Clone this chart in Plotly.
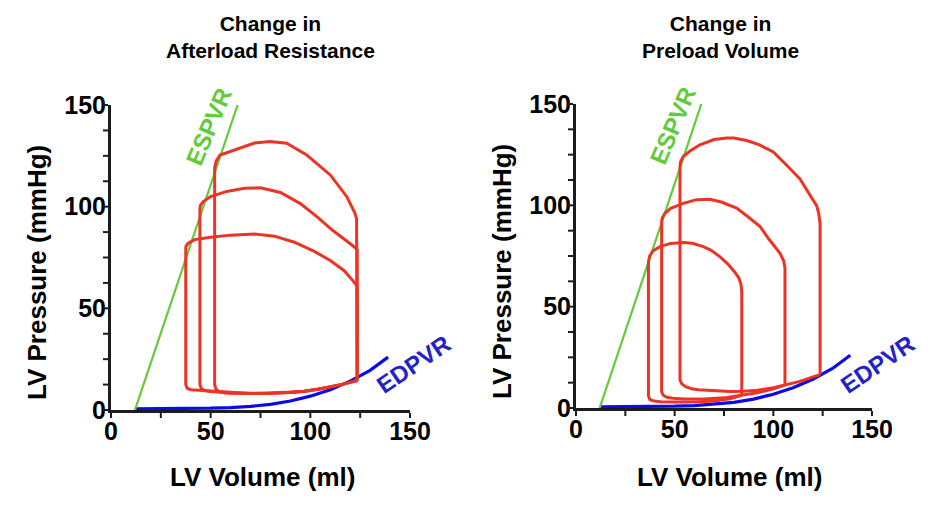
import plotly.graph_objects as go

# ---------------- data ----------------
# End-systolic pressure-volume relation (shared by both panels)
espvr_v = [12, 63.5]
espvr_p = [0, 150]

# End-diastolic pressure-volume relation (shared by both panels)
edpvr_v = [12, 20, 30, 40, 50, 60, 70, 80, 90, 100, 110, 120, 130, 139]
edpvr_p = [0.6, 0.6, 0.6, 0.7, 0.9, 1.2, 1.8, 2.8, 4.4, 6.8, 10.0, 14.2, 19.5, 26.0]

# Left panel: change in afterload resistance
afterload_1_v = [123.5, 123.5, 123.2, 122.4, 118.3, 110, 98.2, 88.1, 79.8, 72, 64.7, 58.5, 54.7, 52.8, 52, 52,
                 52.6, 54, 56.5, 60, 70, 80, 90, 97, 104, 110, 116, 120, 123.5]
afterload_1_p = [14.5, 90, 94, 96.7, 104.9, 115.6, 125.4, 131.2, 132, 131.3, 128.7, 126.8, 125.4, 122.5, 119, 12.5,
                 10.4, 9.2, 8.5, 8.2, 8.1, 8.2, 8.6, 9.2, 10.2, 11.3, 12.6, 13.6, 14.5]
afterload_2_v = [123.5, 123.5, 121, 117, 111, 104, 95, 85, 75, 67, 58, 50, 46.3, 44.9, 44.6, 44.6,
                 45.3, 47, 50, 55, 60, 70, 80, 90, 97, 104, 110, 116, 120, 123.5]
afterload_2_p = [14.5, 79, 81, 84, 88.5, 94.5, 101.5, 107, 109.3, 109, 107.5, 105, 102.5, 100.8, 99, 12.5,
                 10.6, 9.6, 9.1, 8.7, 8.3, 8.1, 8.2, 8.6, 9.2, 10.2, 11.3, 12.6, 13.6, 14.5]
afterload_3_v = [123.5, 123.5, 121, 117, 110, 102, 92, 82, 72, 60, 50, 42, 38.7, 37.6, 37.5, 37.5,
                 38.2, 40, 44, 50, 56, 62, 70, 80, 90, 97, 104, 110, 116, 120, 123.5]
afterload_3_p = [14.5, 61, 64, 68.5, 73.5, 78, 82.5, 85.5, 86.5, 86, 85, 83.8, 82, 80.5, 78.7, 12.5,
                 10.7, 10, 9.7, 9.3, 8.8, 8.4, 8.1, 8.2, 8.6, 9.2, 10.2, 11.3, 12.6, 13.6, 14.5]

# Right panel: change in preload volume
preload_1_v = [123.7, 123.7, 123, 122, 118, 113.5, 107, 100, 93, 86.5, 80, 76.4, 70, 62.8, 58, 54.4, 53, 52.7,
               52.7, 53.5, 55.5, 58.5, 62, 70, 78, 85, 92, 100, 106, 113, 119, 123.7]
preload_1_p = [16.5, 91, 96, 99.7, 106, 113, 119.5, 126.3, 129.8, 132, 133.2, 133.2, 132.5, 129.9, 127, 124.1, 121.5, 119,
               14, 12, 10.5, 9.5, 9, 8.5, 8.2, 8.3, 8.8, 10, 11.3, 13, 15, 16.5]
preload_2_v = [105.9, 105.9, 105.3, 103.4, 98, 93.3, 87, 81.4, 74, 67.9, 61, 54.4, 48, 45.1, 43.6, 43.4,
               43.4, 44.2, 46, 49, 55, 65, 75, 84, 92, 100, 105.9]
preload_2_p = [11.3, 68.9, 72.5, 76.3, 83, 89.5, 94.5, 98.6, 101.5, 103, 102.8, 101, 98.5, 96.1, 93.5, 91,
               8, 6.3, 5.3, 4.8, 4.5, 4.5, 5, 6.2, 7.5, 9.5, 11.3]
preload_3_v = [84, 84, 83.6, 82.6, 80.5, 77, 73, 68.5, 64.5, 59, 54.4, 48, 42.6, 39, 37.3, 36.7,
               36.7, 37.4, 39.5, 43, 50, 60, 70, 78, 84]
preload_3_p = [6.2, 57.4, 61, 64, 67, 71, 74.6, 77.8, 79.6, 81.3, 81.7, 81.2, 79.6, 77.5, 75, 72,
               6, 4.2, 3.4, 3.1, 3, 3, 3.5, 4.5, 6.2]

panel_titles = ["Change in<br>Afterload Resistance", "Change in<br>Preload Volume"]
x_title = "LV Volume (ml)"
y_title = "LV Pressure (mmHg)"
x_tick_vals = [0, 25, 50, 75, 100, 125, 150]
x_tick_text = ["0", "", "50", "", "100", "", "150"]
y_tick_vals = [0, 12.5, 25, 37.5, 50, 62.5, 75, 87.5, 100, 112.5, 125, 137.5, 150]
y_tick_text = ["0", "", "", "", "50", "", "", "", "100", "", "", "", "150"]
axis_range = [0, 150]

# ---------------- styling ----------------
RED = "#EC3426"
GREEN = "#62CB3A"
BLUE = "#0B0BEA"
BLUE_TXT = "#2222C8"
INK = "#1C1C1C"
FONT = "Liberation Sans, Arial, sans-serif"
W, H = 938, 514

fig = go.Figure()

def add_panel(xa, ya, loops):
    fig.add_trace(go.Scatter(x=edpvr_v, y=edpvr_p, mode="lines", xaxis=xa, yaxis=ya,
                             line=dict(color=BLUE, width=3.2), hoverinfo="skip"))
    fig.add_trace(go.Scatter(x=espvr_v, y=espvr_p, mode="lines", xaxis=xa, yaxis=ya,
                             line=dict(color=GREEN, width=2.2), hoverinfo="skip"))
    for v, p in loops:
        fig.add_trace(go.Scatter(x=v, y=p, mode="lines", xaxis=xa, yaxis=ya,
                                 line=dict(color=RED, width=3), hoverinfo="skip"))

add_panel("x", "y", [(afterload_1_v, afterload_1_p), (afterload_2_v, afterload_2_p),
                     (afterload_3_v, afterload_3_p)])
add_panel("x2", "y2", [(preload_1_v, preload_1_p), (preload_2_v, preload_2_p),
                       (preload_3_v, preload_3_p)])

def axis(domain, anchor, vals, text):
    return dict(domain=domain, anchor=anchor, range=axis_range, autorange=False,
                showgrid=False, zeroline=False,
                showline=False, ticks="",
                tickmode="array", tickvals=vals, ticktext=text, ticklabelstandoff=4,
                tickfont=dict(family=FONT, size=25, color="black", weight="bold"),
                fixedrange=True)

XD1 = [111 / W, 410 / W]
YD1 = [1 - 410 / H, 1 - 105 / H]
XD2 = [576 / W, 872 / W]
YD2 = [1 - 408 / H, 1 - 104 / H]

# transparent full-page overlay axes (paper units) that carry the axis frames
overlay = dict(domain=[0, 1], range=[0, 1], autorange=False, visible=False, fixedrange=True)

fig.update_layout(
    template="none",
    width=W, height=H, autosize=False,
    margin=dict(l=0, r=0, t=0, b=0, pad=0, autoexpand=False),
    paper_bgcolor="white", plot_bgcolor="rgba(0,0,0,0)",
    showlegend=False,
    xaxis=axis(XD1, "y", x_tick_vals, x_tick_text),
    yaxis=axis(YD1, "x", y_tick_vals, y_tick_text),
    xaxis2=axis(XD2, "y2", x_tick_vals, x_tick_text),
    yaxis2=axis(YD2, "x2", y_tick_vals, y_tick_text),
    xaxis3=dict(overlay, anchor="y3"),
    yaxis3=dict(overlay, anchor="x3"),
)

# axis lines and tick marks, mapped from the axis range onto each panel's domain
def frame(xd, yd):
    span = axis_range[1] - axis_range[0]
    def fx(v):
        return xd[0] + (v - axis_range[0]) / span * (xd[1] - xd[0])
    def fy(v):
        return yd[0] + (v - axis_range[0]) / span * (yd[1] - yd[0])
    lx, ly = 1.0 / W, 1.0 / H
    ax_x = [xd[0] - 3 * lx, xd[1], None, xd[0] - 1.5 * lx, xd[0] - 1.5 * lx]
    ax_y = [yd[0] - 1.5 * ly, yd[0] - 1.5 * ly, None, yd[0] - 3 * ly, yd[1]]
    fig.add_trace(go.Scatter(x=ax_x, y=ax_y, mode="lines", xaxis="x3", yaxis="y3",
                             line=dict(color=INK, width=3), hoverinfo="skip"))
    tx, ty = [], []
    for v in x_tick_vals:
        tx += [fx(v), fx(v), None]
        ty += [yd[0] - 3 * ly, yd[0] - 8 * ly, None]
    for v in y_tick_vals:
        tx += [xd[0] - 3 * lx, xd[0] - 8 * lx, None]
        ty += [fy(v), fy(v), None]
    fig.add_trace(go.Scatter(x=tx, y=ty, mode="lines", xaxis="x3", yaxis="y3",
                             line=dict(color=INK, width=2), hoverinfo="skip"))

frame(XD1, YD1)
frame(XD2, YD2)

def ann(text, px, py, size, color="black", angle=0):
    fig.add_annotation(text="<b>" + text + "</b>", xref="paper", yref="paper",
                       x=px / W, y=1 - py / H, xanchor="center", yanchor="middle",
                       showarrow=False, textangle=angle,
                       font=dict(family=FONT, size=size, color=color))

# panel titles
ann(panel_titles[0], 270, 37, 21)
ann(panel_titles[1], 720, 37, 21)
# axis titles
ann(x_title, 262, 477, 26)
ann(x_title, 729, 477, 26)
ann(y_title, 37, 273, 26, angle=-90)
ann(y_title, 502, 272, 26, angle=-90)
# curve labels
ann("ESPVR", 208, 127, 24, GREEN, -67)
ann("ESPVR", 672, 126, 24, GREEN, -67)
ann("EDPVR", 413, 364, 24, BLUE_TXT, -34)
ann("EDPVR", 877, 364, 24, BLUE_TXT, -34)

fig.write_html("out.html")
